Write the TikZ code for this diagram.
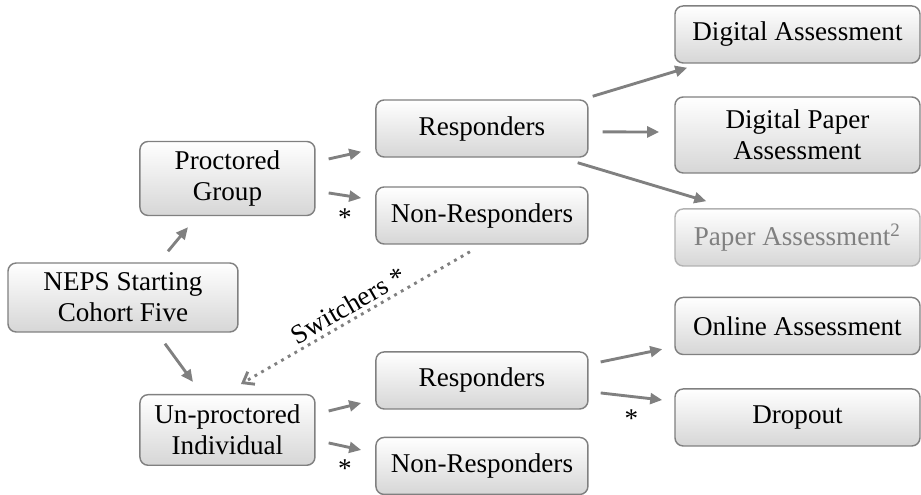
\documentclass[tikz,border=0pt]{standalone}
\usepackage{fontspec}
\setmainfont{Liberation Serif}
\usetikzlibrary{arrows.meta,positioning}

\begin{document}
\begin{tikzpicture}[
    font=\fontsize{11.3}{13}\selectfont,
    box/.style={draw=black!50,line width=0.6pt,rounded corners=0.12cm,top color=white,bottom color=black!16,align=center,inner sep=2pt,minimum height=0.835cm},
    >={Triangle[length=5pt,width=4.5pt]},
    arr/.style={->,draw=black!50,line width=1.2pt},
  ]
  \useasboundingbox (-1.801,-2.892) rectangle (11.687,4.357);

  \node[box,minimum width=3.368cm,minimum height=1.01cm] (neps) {NEPS Starting\\Cohort Five};
  \node[box,minimum width=2.563cm,minimum height=1.084cm,right of=neps,node distance=1.53cm,yshift=1.743cm] (proc) {Proctored\\Group};
  \node[box,minimum width=2.563cm,minimum height=1.034cm,right of=neps,node distance=1.53cm,yshift=-1.94cm] (unproc) {Un-proctored\\Individual};

  \node[box,minimum width=3.105cm,right of=proc,node distance=3.727cm,yshift=0.732cm] (resp1) {Responders};
  \node[box,minimum width=3.105cm,right of=proc,node distance=3.727cm,yshift=-0.542cm] (nonresp1) {Non-Responders};
  \node[box,minimum width=3.105cm,right of=unproc,node distance=3.727cm,yshift=0.725cm] (resp2) {Responders};
  \node[box,minimum width=3.105cm,right of=unproc,node distance=3.727cm,yshift=-0.527cm] (nonresp2) {Non-Responders};

  \node[box,minimum width=3.588cm,right of=resp1,node distance=4.621cm,yshift=1.377cm] (dig) {Digital Assessment};
  \node[box,minimum width=3.588cm,minimum height=1.113cm,right of=resp1,node distance=4.621cm,yshift=-0.095cm] (digpap) {Digital Paper\\Assessment};
  \node[box,minimum width=3.588cm,draw=black!30,text=black!50,right of=resp1,node distance=4.621cm,yshift=-1.596cm] (paper) {Paper Assessment\textsuperscript{2}};
  \node[box,minimum width=3.588cm,right of=resp2,node distance=4.621cm,yshift=0.798cm] (online) {Online Assessment};
  \node[box,minimum width=3.588cm,right of=resp2,node distance=4.621cm,yshift=-0.542cm] (dropout) {Dropout};

  \draw[arr] ([xshift=0.659cm,yshift=0.161cm]neps.north) -- ([xshift=-0.578cm,yshift=-0.161cm]proc.south);
  \draw[arr] ([xshift=0.615cm,yshift=-0.161cm]neps.south) -- ([xshift=-0.505cm,yshift=0.176cm]unproc.north);

  \draw[arr] ([xshift=0.19cm,yshift=0.286cm]proc.east) -- ([xshift=-0.205cm,yshift=0.088cm]resp1.south west);
  \draw[arr] ([xshift=0.19cm,yshift=-0.212cm]proc.east) -- node[below,yshift=-0.05cm] {*} ([xshift=-0.205cm,yshift=0.256cm]nonresp1.west);
  \draw[arr] ([xshift=0.19cm,yshift=0.278cm]unproc.east) -- ([xshift=-0.205cm,yshift=-0.33cm]resp2.west);
  \draw[arr] ([xshift=0.19cm,yshift=-0.19cm]unproc.east) -- node[below,yshift=-0.05cm] {*} ([xshift=-0.205cm,yshift=0.234cm]nonresp2.west);

  \draw[arr] ([xshift=0.059cm,yshift=0.044cm]resp1.north east) -- ([xshift=0.19cm,yshift=-0.059cm]dig.south west);
  \draw[arr] ([xshift=0.205cm,yshift=-0.05cm]resp1.east) -- ([xshift=-0.22cm,yshift=0.044cm]digpap.west);
  \draw[arr] ([xshift=-0.161cm,yshift=-0.073cm]resp1.south east) -- ([xshift=0.469cm,yshift=0.103cm]paper.north west);
  \draw[arr] ([xshift=0.176cm,yshift=0.271cm]resp2.east) -- ([xshift=-0.176cm,yshift=0.088cm]online.south west);
  \draw[arr] ([xshift=0.176cm,yshift=-0.183cm]resp2.east) -- node[below,yshift=-0.05cm] {*} ([xshift=-0.176cm,yshift=0.256cm]dropout.west);

  \draw[black!50,line width=1.2pt,dotted,-{Straight Barb[length=4pt,width=6pt]}] ([xshift=-0.176cm,yshift=-0.103cm]nonresp1.south) -- node[pos=0.5,sloped,above,inner sep=1.5pt,text=black] {Switchers *} ([xshift=0.198cm,yshift=0.146cm]unproc.north);
\end{tikzpicture}
\end{document}
